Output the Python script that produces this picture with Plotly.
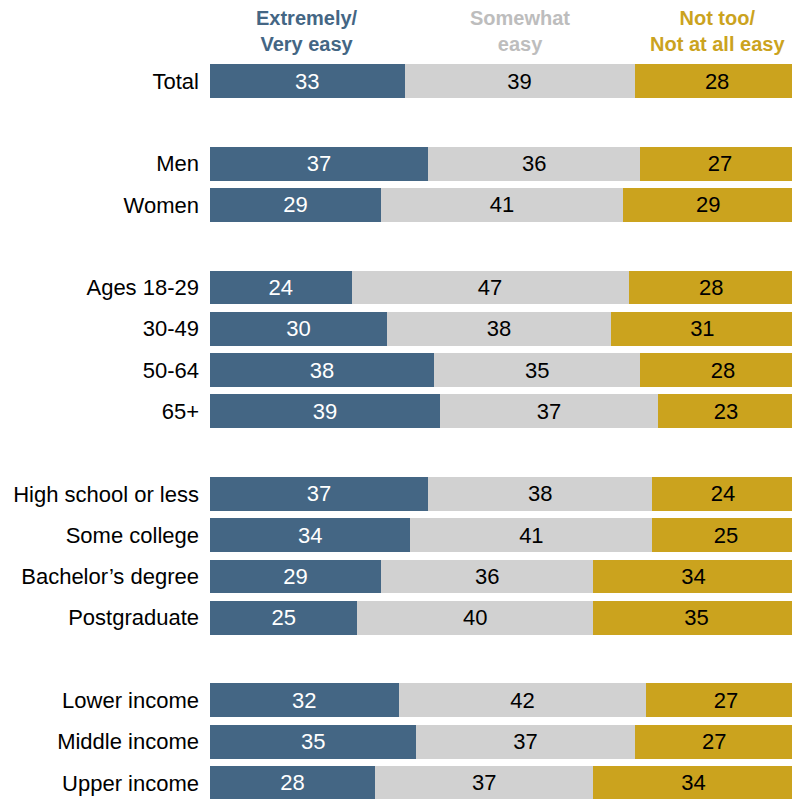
import plotly.graph_objects as go

# Survey responses by group (percent)
categories = [
    "Total", "",
    "Men", "Women", "",
    "Ages 18-29", "30-49", "50-64", "65+", "",
    "High school or less", "Some college", "Bachelor\u2019s degree", "Postgraduate", "",
    "Lower income", "Middle income", "Upper income",
]
easy = [33, None, 37, 29, None, 24, 30, 38, 39, None, 37, 34, 29, 25, None, 32, 35, 28]
somewhat = [39, None, 36, 41, None, 47, 38, 35, 37, None, 38, 41, 36, 40, None, 42, 37, 37]
not_easy = [28, None, 27, 29, None, 28, 31, 28, 23, None, 24, 25, 34, 35, None, 27, 27, 34]

series_names = ["Extremely/<br>Very easy", "Somewhat<br>easy", "Not too/<br>Not at all easy"]
colors = ["#446684", "#D1D1D1", "#CBA31E"]
header_colors = ["#446684", "#BDBDBD", "#CBA31E"]
text_colors = ["#FFFFFF", "#000000", "#000000"]

rows = list(range(len(categories)))
label_font = "Liberation Sans, Arial, sans-serif"

fig = go.Figure()
for vals, name, col, tcol in zip([easy, somewhat, not_easy], series_names, colors, text_colors):
    ys = [r for r, v in zip(rows, vals) if v is not None]
    xs = [v for v in vals if v is not None]
    fig.add_trace(go.Bar(
        x=xs, y=ys, orientation="h", name=name,
        marker=dict(color=col, line=dict(width=0)),
        width=0.82,
        text=[str(v) for v in xs],
        textposition="inside", insidetextanchor="middle",
        constraintext="none", textangle=0,
        textfont=dict(color=tcol, size=22, family=label_font),
        hoverinfo="skip",
    ))

# Column headers centred over the "Total" segments
cum = 0
for v, name, hcol in zip([easy[0], somewhat[0], not_easy[0]], series_names, header_colors):
    fig.add_annotation(
        x=cum + v / 2, y=1, xref="x", yref="paper", yanchor="bottom", yshift=3,
        text="<b>" + name + "</b>", showarrow=False,
        font=dict(size=20, color=hcol, family="Liberation Sans Narrow, Arial Narrow, sans-serif"),
        align="center",
    )
    cum += v

fig.update_layout(
    barmode="stack",
    width=792, height=799,
    margin=dict(l=210, r=0, t=60, b=0),
    paper_bgcolor="white", plot_bgcolor="white",
    showlegend=False,
    uniformtext=dict(mode="show", minsize=10),
    xaxis=dict(range=[0, 98.7], visible=False, fixedrange=True),
    yaxis=dict(
        range=[17.39, -0.51],
        tickvals=[r for r, c in zip(rows, categories) if c],
        ticktext=[c for c in categories if c],
        ticks="", showgrid=False, zeroline=False, showline=False,
        tickfont=dict(size=22, color="#000000", family=label_font),
        ticklabelstandoff=10,
    ),
)

fig.write_html("out.html")
